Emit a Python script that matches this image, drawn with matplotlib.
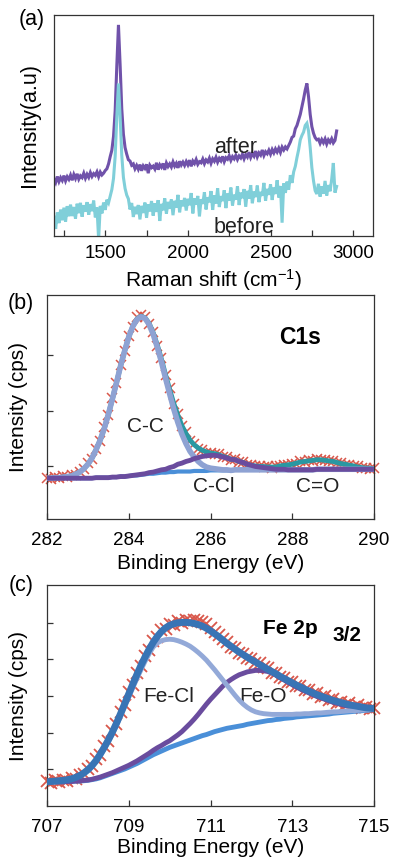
import numpy as np
import matplotlib
matplotlib.use('Agg')
from matplotlib import pyplot as plt

plt.rcParams['font.family'] = ['Liberation Sans', 'DejaVu Sans']
plt.rcParams['mathtext.fontset'] = 'custom'
plt.rcParams['mathtext.rm'] = 'Liberation Sans'
plt.rcParams['mathtext.it'] = 'Liberation Sans:italic'
plt.rcParams['mathtext.bf'] = 'Liberation Sans:bold'

# ---------------- (a) Raman spectra ----------------
raman_shift = np.arange(1190, 2901, 10)

raman_after = [
    25.8, 24.2, 26.9, 24.6, 26.4, 25.1, 27.3, 24.9, 26.8, 25.6,
    27.5, 25.2, 27.8, 26.0, 28.1, 25.7, 27.2, 26.4, 28.4, 26.1,
    27.9, 26.5, 28.7, 26.9, 28.2, 27.4, 29.0, 26.8, 28.9, 27.6,
    28.4, 29.6, 30.4, 32.6, 35.9, 38.8, 45.0, 56.5, 77.0, 95.5,
    77.5, 57.5, 46.0, 40.0, 37.0, 34.5, 33.9, 32.0, 32.6, 30.4,
    31.9, 30.2, 32.3, 29.5, 31.7, 30.6, 32.4, 28.4, 32.0, 30.9,
    31.6, 30.3, 33.1, 30.0, 32.2, 31.1, 32.8, 29.9, 33.0, 31.4,
    32.6, 31.2, 33.5, 31.6, 32.9, 30.8, 33.8, 32.1, 33.4, 31.9,
    33.7, 32.2, 34.3, 31.5, 33.9, 32.8, 34.6, 32.4, 33.6, 33.1,
    34.8, 32.7, 34.4, 33.5, 35.2, 32.9, 34.9, 33.8, 35.6, 33.4,
    35.1, 34.0, 36.0, 33.6, 35.4, 34.7, 36.3, 34.2, 35.9, 34.9,
    36.5, 34.6, 36.2, 35.3, 37.0, 34.9, 36.8, 35.7, 37.9, 35.5,
    37.3, 36.1, 38.4, 35.8, 37.6, 36.6, 38.9, 36.4, 38.1, 37.2,
    38.8, 37.0, 39.1, 37.6, 39.4, 38.0, 39.7, 37.8, 40.2, 38.9,
    40.3, 39.4, 41.0, 42.5, 44.6, 45.2, 48.5, 50.0, 52.5, 55.0,
    58.5, 62.0, 66.0, 69.0, 63.0, 55.0, 49.5, 46.5, 44.5, 43.5,
    43.8, 41.9, 43.6, 42.2, 43.9, 41.6, 43.5, 42.4, 44.0, 42.1,
    43.2, 47.5]

raman_before = [
    8.5, 3.2, 10.6, 5.8, 11.9, 7.1, 12.8, 6.4, 13.5, 8.9,
    14.2, 9.0, 13.1, 7.8, 14.6, 10.3, 15.0, 8.7, 13.9, 11.0,
    15.3, 9.6, 14.4, 11.2, 16.0, 8.4, 12.9, -1.5, 13.6, 10.2,
    15.1, 11.8, 16.4, 15.0, 18.0, 21.0, 26.0, 36.0, 54.0, 69.0,
    54.0, 36.5, 26.5, 21.5, 18.5, 16.8, 12.0, 14.9, 8.6, 13.2,
    9.9, 14.0, 7.5, 13.6, 10.4, 15.1, 8.2, 14.3, 11.1, 15.8,
    9.2, 14.7, 10.9, 16.2, 6.8, 14.5, 11.6, 17.0, 10.1, 15.4,
    12.3, 16.5, 9.4, 15.9, 12.8, 18.6, 10.7, 16.1, 13.4, 17.2,
    11.5, 16.8, 13.9, 19.4, 10.2, 17.0, 14.2, 18.1, 8.9, 16.6,
    14.5, 19.8, 12.0, 17.5, 15.2, 20.3, 11.8, 18.4, 14.7, 21.6,
    13.1, 18.0, 15.8, 20.7, 12.6, 19.2, 16.0, 21.9, 13.8, 18.7,
    16.4, 22.5, 14.0, 19.6, 17.1, 21.2, 13.2, 20.4, 16.9, 23.0,
    14.8, 20.1, 17.6, 22.8, 15.3, 19.9, 18.2, 24.0, 15.9, 21.3,
    18.6, 23.4, 16.3, 21.9, 19.0, 25.2, 17.4, 22.6, 6.0, 23.8,
    19.5, 24.6, 21.0, 27.5, 24.0, 29.0, 31.5, 35.5, 39.0, 43.5,
    45.5, 47.0, 50.0, 51.0, 47.5, 40.0, 31.0, 25.0, 20.5, 19.0,
    23.6, 17.8, 22.4, 19.1, 24.9, 18.3, 23.0, 20.2, 25.6, 33.0,
    19.6, 22.4]

# ---------------- (b) C1s ----------------
e_c1s = np.round(np.linspace(282.0, 290.0, 81), 1)

c1s_data = [
    0.80, 0.78, 0.81, 0.79, 0.83, 0.81, 0.85, 0.85, 0.91, 0.95,
    1.06, 1.14, 1.32, 1.46, 1.70, 1.92, 2.23, 2.49, 2.82, 3.06,
    3.34, 3.50, 3.67, 3.71, 3.68, 3.55, 3.40, 3.16, 2.94, 2.63,
    2.40, 2.12, 1.94, 1.72, 1.61, 1.46, 1.41, 1.32, 1.30, 1.25,
    1.25, 1.22, 1.22, 1.17, 1.17, 1.12, 1.13, 1.08, 1.08, 1.03,
    1.03, 1.00, 1.01, 0.99, 1.00, 0.98, 1.00, 1.00, 1.03, 1.02,
    1.05, 1.05, 1.09, 1.08, 1.11, 1.10, 1.13, 1.11, 1.12, 1.09,
    1.10, 1.06, 1.06, 1.03, 1.03, 1.00, 1.00, 0.97, 0.98, 0.96,
    0.97]

c1s_bg = [
    0.79, 0.79, 0.79, 0.79, 0.79, 0.79, 0.79, 0.79, 0.79, 0.79,
    0.79, 0.79, 0.80, 0.80, 0.80, 0.80, 0.81, 0.81, 0.82, 0.82,
    0.83, 0.84, 0.84, 0.85, 0.86, 0.87, 0.87, 0.88, 0.89, 0.89,
    0.90, 0.90, 0.91, 0.91, 0.91, 0.91, 0.92, 0.92, 0.92, 0.92,
    0.93, 0.93, 0.93, 0.93, 0.93, 0.93, 0.94, 0.94, 0.94, 0.94,
    0.94, 0.94, 0.94, 0.94, 0.94, 0.94, 0.94, 0.94, 0.94, 0.94,
    0.94, 0.94, 0.94, 0.94, 0.94, 0.94, 0.95, 0.95, 0.95, 0.95,
    0.95, 0.95, 0.95, 0.95, 0.95, 0.95, 0.95, 0.95, 0.95, 0.95,
    0.95]

# components, heights above background
c1s_cc = [
    0, 0, 0.01, 0.01, 0.02, 0.03, 0.04, 0.07, 0.11, 0.17,
    0.25, 0.36, 0.50, 0.67, 0.88, 1.13, 1.40, 1.69, 1.98, 2.25,
    2.49, 2.67, 2.79, 2.83, 2.79, 2.67, 2.49, 2.25, 1.98, 1.69,
    1.40, 1.13, 0.88, 0.67, 0.50, 0.36, 0.25, 0.17, 0.11, 0.07,
    0.04, 0.03, 0.02, 0.01, 0.01, 0, 0, 0, 0, 0,
    0, 0, 0, 0, 0, 0, 0, 0, 0, 0,
    0, 0, 0, 0, 0, 0, 0, 0, 0, 0,
    0, 0, 0, 0, 0, 0, 0, 0, 0, 0,
    0]

c1s_ccl = [
    0, 0, 0, 0, 0, 0, 0, 0, 0, 0,
    0, 0, 0, 0, 0, 0, 0, 0, 0, 0,
    0, 0, 0.01, 0.01, 0.01, 0.02, 0.03, 0.04, 0.05, 0.06,
    0.08, 0.10, 0.13, 0.15, 0.18, 0.20, 0.22, 0.24, 0.26, 0.27,
    0.27, 0.27, 0.26, 0.24, 0.22, 0.20, 0.18, 0.15, 0.13, 0.10,
    0.08, 0.06, 0.05, 0.04, 0.03, 0.02, 0.01, 0.01, 0.01, 0,
    0, 0, 0, 0, 0, 0, 0, 0, 0, 0,
    0, 0, 0, 0, 0, 0, 0, 0, 0, 0,
    0]

c1s_co = [
    0, 0, 0, 0, 0, 0, 0, 0, 0, 0,
    0, 0, 0, 0, 0, 0, 0, 0, 0, 0,
    0, 0, 0, 0, 0, 0, 0, 0, 0, 0,
    0, 0, 0, 0, 0, 0, 0, 0, 0, 0,
    0, 0, 0, 0, 0, 0, 0, 0, 0, 0,
    0, 0.01, 0.01, 0.02, 0.02, 0.03, 0.04, 0.06, 0.07, 0.09,
    0.10, 0.12, 0.14, 0.15, 0.16, 0.17, 0.17, 0.17, 0.16, 0.15,
    0.14, 0.12, 0.10, 0.09, 0.07, 0.06, 0.04, 0.03, 0.02, 0.02,
    0.01]

# ---------------- (c) Fe 2p3/2 ----------------
e_fe = np.round(np.linspace(707.0, 715.0, 81), 1)

fe_data = [
    0.68, 0.62, 0.71, 0.66, 0.72, 0.69, 0.77, 0.74, 0.85, 0.88,
    1.02, 1.08, 1.28, 1.38, 1.64, 1.78, 2.06, 2.23, 2.57, 2.76,
    3.10, 3.30, 3.63, 3.81, 4.10, 4.25, 4.50, 4.60, 4.80, 4.83,
    4.97, 4.94, 5.05, 4.98, 5.07, 5.06, 5.08, 5.05, 5.02, 4.96,
    4.85, 4.74, 4.66, 4.55, 4.47, 4.35, 4.31, 4.18, 4.16, 4.03,
    4.02, 3.91, 3.89, 3.78, 3.76, 3.64, 3.63, 3.51, 3.50, 3.39,
    3.38, 3.27, 3.28, 3.16, 3.17, 3.06, 3.08, 2.97, 2.99, 2.89,
    2.91, 2.82, 2.85, 2.76, 2.80, 2.71, 2.76, 2.68, 2.71, 2.64,
    2.68]

fe_env = [
    0.66, 0.67, 0.68, 0.69, 0.70, 0.72, 0.74, 0.78, 0.83, 0.90,
    0.99, 1.10, 1.24, 1.41, 1.60, 1.80, 2.02, 2.26, 2.52, 2.79,
    3.06, 3.33, 3.59, 3.84, 4.07, 4.28, 4.47, 4.63, 4.76, 4.86,
    4.93, 4.97, 5.00, 5.01, 5.01, 5.00, 4.98, 4.95, 4.91, 4.85,
    4.78, 4.70, 4.62, 4.53, 4.44, 4.36, 4.28, 4.20, 4.13, 4.06,
    3.99, 3.93, 3.86, 3.80, 3.73, 3.67, 3.61, 3.54, 3.48, 3.42,
    3.36, 3.30, 3.25, 3.19, 3.14, 3.09, 3.04, 3.00, 2.96, 2.92,
    2.88, 2.85, 2.82, 2.79, 2.76, 2.74, 2.72, 2.70, 2.68, 2.67,
    2.66]

fe_bg = [
    0.66, 0.66, 0.66, 0.66, 0.66, 0.67, 0.67, 0.68, 0.68, 0.69,
    0.70, 0.72, 0.74, 0.77, 0.81, 0.85, 0.89, 0.93, 0.97, 1.01,
    1.06, 1.11, 1.16, 1.22, 1.28, 1.34, 1.40, 1.45, 1.50, 1.55,
    1.60, 1.64, 1.68, 1.72, 1.76, 1.80, 1.84, 1.88, 1.92, 1.95,
    1.99, 2.03, 2.06, 2.09, 2.12, 2.14, 2.16, 2.18, 2.20, 2.23,
    2.25, 2.27, 2.29, 2.31, 2.33, 2.34, 2.36, 2.37, 2.39, 2.40,
    2.41, 2.43, 2.44, 2.45, 2.46, 2.47, 2.48, 2.49, 2.50, 2.51,
    2.53, 2.54, 2.55, 2.56, 2.57, 2.58, 2.59, 2.60, 2.61, 2.62,
    2.63]

fe_cl = [
    0.66, 0.66, 0.67, 0.68, 0.69, 0.71, 0.73, 0.77, 0.82, 0.89,
    0.98, 1.09, 1.22, 1.38, 1.56, 1.76, 1.97, 2.20, 2.45, 2.71,
    2.97, 3.23, 3.48, 3.72, 3.95, 4.16, 4.34, 4.45, 4.51, 4.54,
    4.55, 4.54, 4.51, 4.47, 4.42, 4.36, 4.28, 4.19, 4.09, 3.98,
    3.85, 3.72, 3.58, 3.44, 3.30, 3.16, 3.02, 2.89, 2.78, 2.69,
    2.62, 2.57, 2.54, 2.52, 2.51, 2.50, 2.50, 2.50, 2.50, 2.50,
    2.50, 2.51, 2.51, 2.52, 2.52, 2.53, 2.54, 2.54, 2.55, 2.56,
    2.57, 2.57, 2.58, 2.59, 2.60, 2.60, 2.61, 2.62, 2.62, 2.63,
    2.64]

fe_o = [
    0.66, 0.66, 0.66, 0.66, 0.66, 0.67, 0.67, 0.68, 0.69, 0.70,
    0.71, 0.73, 0.76, 0.79, 0.83, 0.87, 0.91, 0.96, 1.01, 1.06,
    1.11, 1.17, 1.23, 1.30, 1.37, 1.44, 1.52, 1.59, 1.65, 1.72,
    1.78, 1.86, 1.94, 2.03, 2.14, 2.25, 2.37, 2.50, 2.64, 2.78,
    2.91, 3.03, 3.15, 3.27, 3.37, 3.45, 3.52, 3.58, 3.62, 3.66,
    3.68, 3.70, 3.70, 3.69, 3.67, 3.63, 3.57, 3.50, 3.44, 3.37,
    3.31, 3.25, 3.19, 3.14, 3.09, 3.04, 2.99, 2.95, 2.91, 2.87,
    2.83, 2.80, 2.77, 2.74, 2.72, 2.70, 2.68, 2.67, 2.65, 2.64,
    2.63]

# colours
RED = '#D9574B'
PURPLE = '#6A4C9E'


def style_axes(ax, pad):
    for sp in ax.spines.values():
        sp.set_color('#333333')
        sp.set_linewidth(0.9)
    ax.tick_params(which='both', direction='in', length=4, width=0.9,
                   color='#333333', labelsize=13.5, pad=pad)


fig = plt.figure(figsize=(3.93, 8.64), dpi=100)

# ---- (a)
ax1 = fig.add_axes([0.1374, 0.7269, 0.8117, 0.2558])
ax1.plot(raman_shift, raman_after, color='#7052AA', lw=2.2, solid_joinstyle='miter')
ax1.plot(raman_shift, raman_before, color='#80CFD9', lw=2.2, solid_joinstyle='miter')
ax1.set_xlim(1190, 3120)
ax1.set_ylim(0, 100)
ax1.set_xticks([1500, 2000, 2500, 3000])
ax1.set_xticks([1250, 1750, 2250, 2750], minor=True)
ax1.set_yticks([])
style_axes(ax1, 6.5)
ax1.text(2290, 37.7, 'after', fontsize=15.5, ha='center', va='baseline', color='#222222')
ax1.text(2340, 1.2, 'before', fontsize=15.5, ha='center', va='baseline', color='#222222')
ax1.set_xlabel('Raman shift (cm$^{-1}$)', fontsize=15, labelpad=4)
ax1.set_ylabel('Intensity(a.u)', fontsize=15.5)
ax1.yaxis.set_label_coords(-0.045, 0.5)
fig.text(32 / 393, 1 - 20 / 864, '(a)', fontsize=15.5, ha='center', va='center')

# ---- (b)
c1s_bg = np.array(c1s_bg)
ax2 = fig.add_axes([0.1196, 0.3993, 0.8321, 0.2593])
ax2.plot(e_c1s, c1s_data, 'x', color=RED, ms=7, mew=1.1, clip_on=False, zorder=1)
ax2.plot(e_c1s, c1s_bg, color='#4A8FD8', lw=3, zorder=2)
ax2.plot(e_c1s, c1s_bg + np.array(c1s_cc) + np.array(c1s_ccl) + np.array(c1s_co),
         color='#2A98A2', lw=3.5, zorder=3)
ax2.plot(e_c1s, c1s_bg + np.array(c1s_cc), color='#8EA2D3', lw=4, zorder=4)
ax2.plot(e_c1s, c1s_bg + np.array(c1s_ccl), color=PURPLE, lw=3.5, zorder=5)
ax2.set_xlim(282, 290)
ax2.set_ylim(0.06, 4.07)
ax2.set_xticks([282, 284, 286, 288, 290])
ax2.set_yticks([1, 2, 3])
ax2.tick_params(axis='y', labelleft=False)
style_axes(ax2, 9)
ax2.text(288.2, 3.30, 'C1s', fontsize=16.5, fontweight='bold', ha='center', va='center')
ax2.text(284.4, 1.71, 'C-C', fontsize=15, ha='center', va='center', color='#222222')
ax2.text(286.09, 0.64, 'C-Cl', fontsize=15, ha='center', va='center', color='#222222')
ax2.text(288.63, 0.64, 'C=O', fontsize=15, ha='center', va='center', color='#222222')
ax2.set_xlabel('Binding Energy (eV)', fontsize=15, labelpad=4)
ax2.set_ylabel('Intensity (cps)', fontsize=15)
ax2.yaxis.set_label_coords(-0.058, 0.5)
fig.text(21 / 393, 1 - 303 / 864, '(b)', fontsize=15.5, ha='center', va='center')

# ---- (c)
ax3 = fig.add_axes([0.1196, 0.0671, 0.8321, 0.2558])
ax3.plot(e_fe, fe_data, 'x', color=RED, ms=8.5, mew=1.3, clip_on=False, zorder=1)
ax3.plot(e_fe, fe_bg, color='#4A8FD8', lw=3.5, zorder=2)
ax3.plot(e_fe, fe_o, color=PURPLE, lw=3.5, zorder=3)
ax3.plot(e_fe, fe_cl, color='#93A9D8', lw=3.5, zorder=4)
ax3.plot(e_fe, fe_env, color='#3874B5', lw=5, zorder=5)
ax3.set_xlim(707, 715)
ax3.set_ylim(0, 6.03)
ax3.set_xticks([707, 709, 711, 713, 715])
ax3.set_yticks([1, 2, 3, 4, 5])
ax3.tick_params(axis='y', labelleft=False)
style_axes(ax3, 9)
ax3.text(712.96, 4.85, 'Fe 2p', fontsize=15, fontweight='bold', ha='center', va='center')
ax3.text(714.35, 4.64, '3/2', fontsize=15, fontweight='bold', ha='center', va='center')
ax3.text(709.98, 2.98, 'Fe-Cl', fontsize=15, ha='center', va='center', color='#222222')
ax3.text(712.29, 2.98, 'Fe-O', fontsize=15, ha='center', va='center', color='#222222')
ax3.set_xlabel('Binding Energy (eV)', fontsize=15, labelpad=2)
ax3.set_ylabel('Intensity (cps)', fontsize=15)
ax3.yaxis.set_label_coords(-0.058, 0.5)
fig.text(21 / 393, 1 - 586 / 864, '(c)', fontsize=15.5, ha='center', va='center')

fig.savefig('out.png', dpi=100)
